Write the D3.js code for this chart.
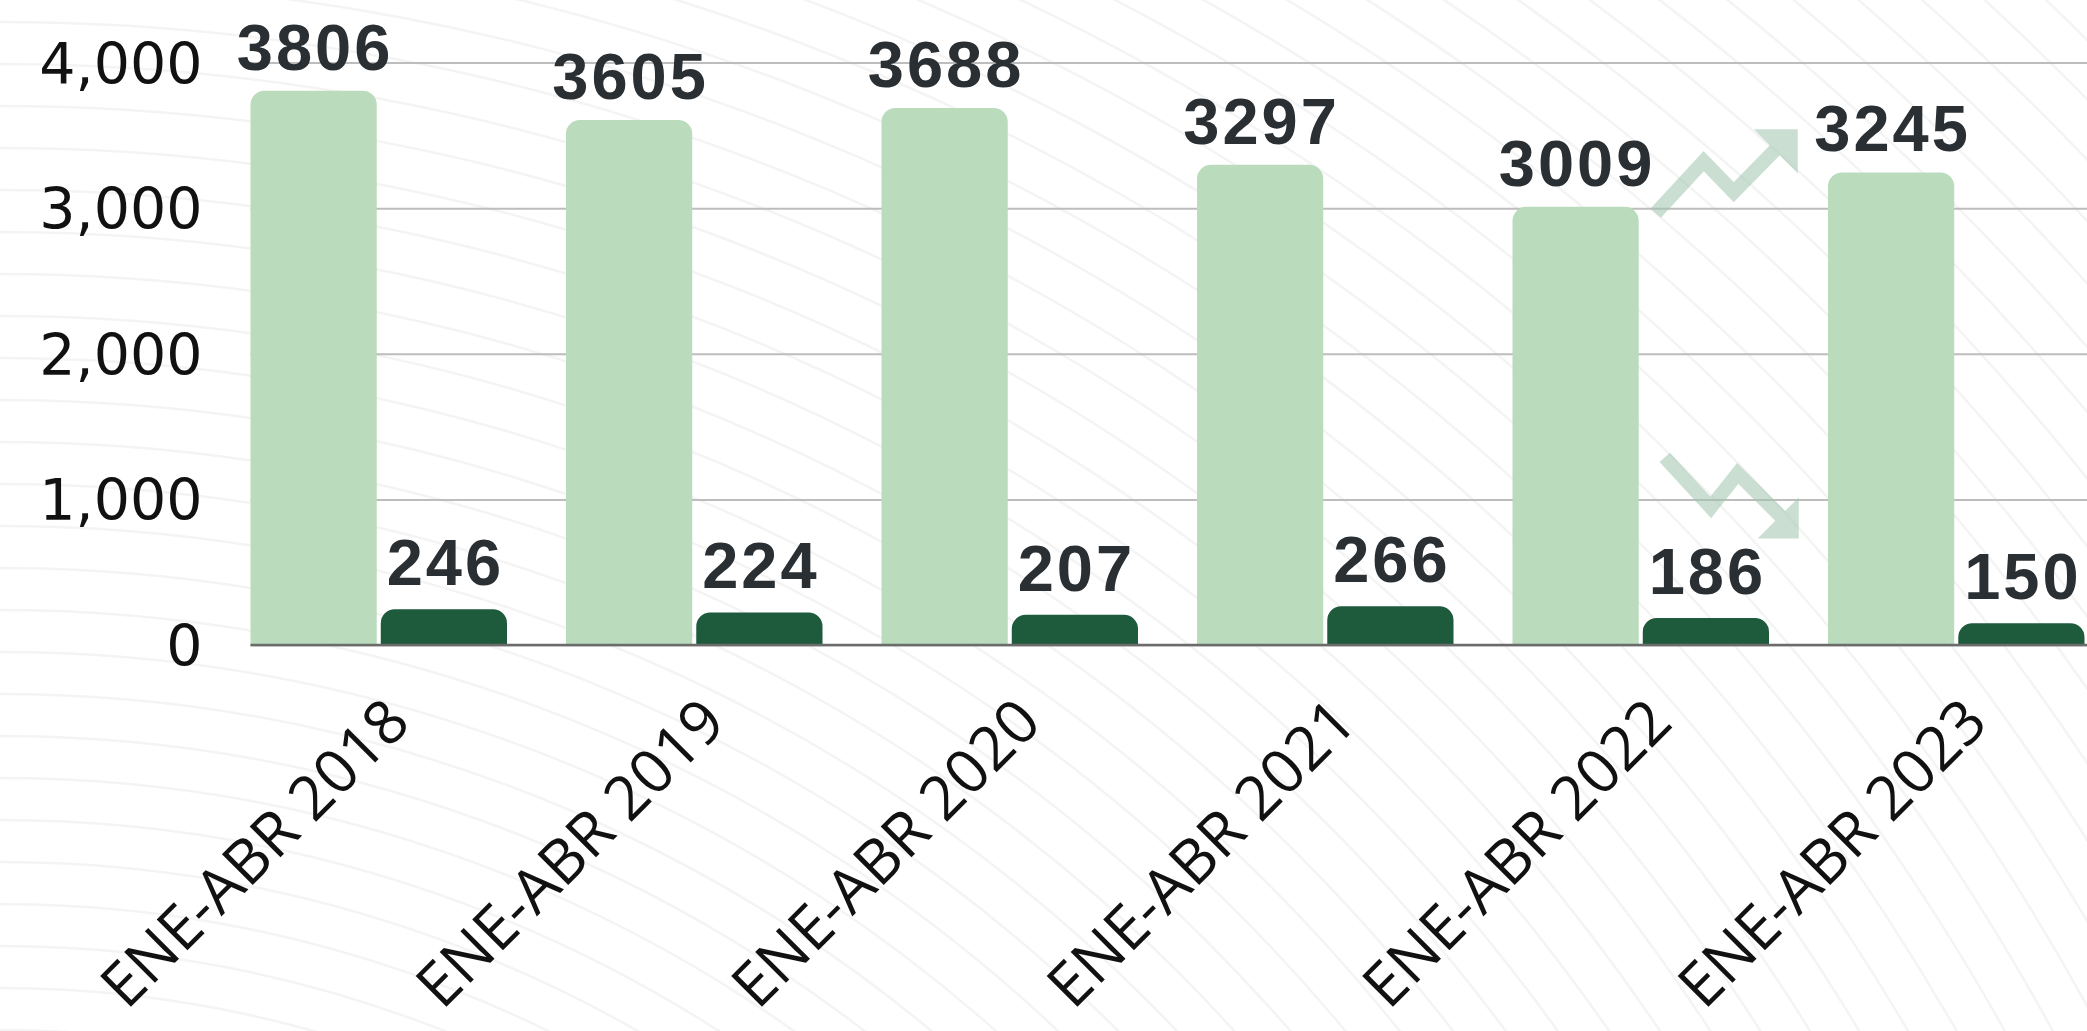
<!DOCTYPE html>
<html>
<head>
<meta charset="utf-8">
<script src="https://cdn.jsdelivr.net/npm/d3@7"></script>
<style>
  body { margin: 0; background: #ffffff; }
  svg { display: block; }
</style>
</head>
<body>
<svg id="chart" width="2087" height="1031"></svg>
<script>
// Datos del gráfico
var categories = ["ENE-ABR 2018", "ENE-ABR 2019", "ENE-ABR 2020", "ENE-ABR 2021", "ENE-ABR 2022", "ENE-ABR 2023"];
var seriesNames = ["total", "otros"];
var totalValues = [3806, 3605, 3688, 3297, 3009, 3245];
var otherValues = [246, 224, 207, 266, 186, 150];
var yTickValues = [0, 1000, 2000, 3000, 4000];

var svg = d3.select("#chart"),
    W = 2087, H = 1031,
    margin = { top: 62.5, right: 2.5, bottom: 386, left: 250.5 },
    innerW = W - margin.left - margin.right,
    innerH = H - margin.top - margin.bottom;

var colors = { total: "#badbbc", otros: "#1e5a3c" };

// Fondo con líneas curvas muy suaves
var bg = svg.append("g").attr("class", "background");
d3.range(1120, 3020, 42).forEach(function (r) {
    bg.append("circle")
        .attr("cx", 0).attr("cy", 2150).attr("r", r)
        .attr("fill", "none")
        .attr("stroke", "#f4f4f4")
        .attr("stroke-width", 2.5);
});

var g = svg.append("g")
    .attr("transform", "translate(" + margin.left + "," + margin.top + ")");

var x0 = d3.scaleBand()
    .domain(categories)
    .range([0, 1834])
    .paddingInner(0.187)
    .paddingOuter(0);

var x1 = d3.scaleBand()
    .domain(seriesNames)
    .range([0, x0.bandwidth()])
    .paddingInner(0.031);

var y = d3.scaleLinear()
    .domain([0, 4000])
    .range([innerH, 0]);

// Eje Y con líneas de cuadrícula
var yAxis = g.append("g")
    .attr("class", "axis axis--y")
    .call(d3.axisLeft(y)
        .tickValues(yTickValues)
        .tickFormat(d3.format(","))
        .tickSize(-innerW - margin.right)
        .tickPadding(48));

yAxis.select(".domain").remove();
yAxis.selectAll(".tick line")
    .attr("stroke", "#bdbdbd")
    .attr("stroke-width", 2);
yAxis.selectAll(".tick text")
    .attr("fill", "#111")
    .attr("dy", "0.36em")
    .style("font-family", "'DejaVu Sans', sans-serif")
    .style("font-size", "57px");

// Barras con esquinas superiores redondeadas
function topRounded(x, yTop, w, h, r) {
    r = Math.min(r, h, w / 2);
    return "M" + x + "," + (yTop + h) +
        "V" + (yTop + r) +
        "A" + r + "," + r + " 0 0 1 " + (x + r) + "," + yTop +
        "H" + (x + w - r) +
        "A" + r + "," + r + " 0 0 1 " + (x + w) + "," + (yTop + r) +
        "V" + (yTop + h) + "Z";
}

var rows = categories.map(function (c, i) {
    return { category: c, values: [
        { key: "total", value: totalValues[i] },
        { key: "otros", value: otherValues[i] }
    ] };
});

var groups = g.selectAll(".group")
    .data(rows)
    .enter().append("g")
    .attr("class", "group")
    .attr("transform", function (d) { return "translate(" + x0(d.category) + ",0)"; });

groups.selectAll("path.bar")
    .data(function (d) { return d.values; })
    .enter().append("path")
    .attr("class", "bar")
    .attr("fill", function (d) { return colors[d.key]; })
    .attr("d", function (d) {
        return topRounded(x1(d.key), y(d.value), x1.bandwidth(), innerH - y(d.value), 14);
    });

// Línea base
g.append("line")
    .attr("x1", 0).attr("x2", innerW + margin.right)
    .attr("y1", innerH).attr("y2", innerH)
    .attr("stroke", "#6b6b6b")
    .attr("stroke-width", 2.5);

// Etiquetas de valores
groups.selectAll("text.value")
    .data(function (d) { return d.values; })
    .enter().append("text")
    .attr("class", "value")
    .attr("x", function (d) { return x1(d.key) + x1.bandwidth() / 2; })
    .attr("y", function (d) { return y(d.value) - (d.key === "total" ? 21 : 24); })
    .attr("dx", 1.5)
    .attr("text-anchor", "middle")
    .attr("fill", "#2a2f33")
    .style("font-family", "'Liberation Sans', Arial, sans-serif")
    .style("font-weight", "bold")
    .style("font-size", "65px")
    .style("letter-spacing", "3px")
    .text(function (d) { return d.value; });

// Etiquetas del eje X giradas
g.selectAll(".xlabel")
    .data(categories)
    .enter().append("text")
    .attr("class", "xlabel")
    .attr("transform", function (d) {
        return "translate(" + (x0(d) + x0.bandwidth() / 2 + 34) + "," + (innerH + 80) + ") rotate(-45)";
    })
    .attr("text-anchor", "end")
    .attr("fill", "#111")
    .style("font-family", "'Open Sans', sans-serif")
    .style("font-size", "61px")
    .text(function (d) { return d; });

// Flechas de tendencia entre 2022 y 2023
var arrowColor = "#9fc6ae";
var ax = x0(categories[4]) + x1.bandwidth();
function trendArrow(points, head) {
    var a = g.append("g").attr("opacity", 0.55);
    a.append("path")
        .attr("d", d3.line()(points))
        .attr("fill", "none")
        .attr("stroke", arrowColor)
        .attr("stroke-width", 14)
        .attr("stroke-linejoin", "miter");
    a.append("path")
        .attr("d", d3.line()(head) + "Z")
        .attr("fill", arrowColor);
}
trendArrow([
    [ax + 17, y(3000) + 5], [ax + 65, y(3000) - 47], [ax + 95, y(3000) - 16], [ax + 145, y(3000) - 67]
], [
    [ax + 159, y(3000) - 79], [ax + 115, y(3000) - 79], [ax + 159, y(3000) - 35]
]);
trendArrow([
    [ax + 26, y(1000) - 42], [ax + 72, y(1000) + 8], [ax + 99, y(1000) - 26], [ax + 145, y(1000) + 20]
], [
    [ax + 160, y(1000) + 39], [ax + 160, y(1000) - 2], [ax + 119, y(1000) + 39]
]);
</script>
</body>
</html>
